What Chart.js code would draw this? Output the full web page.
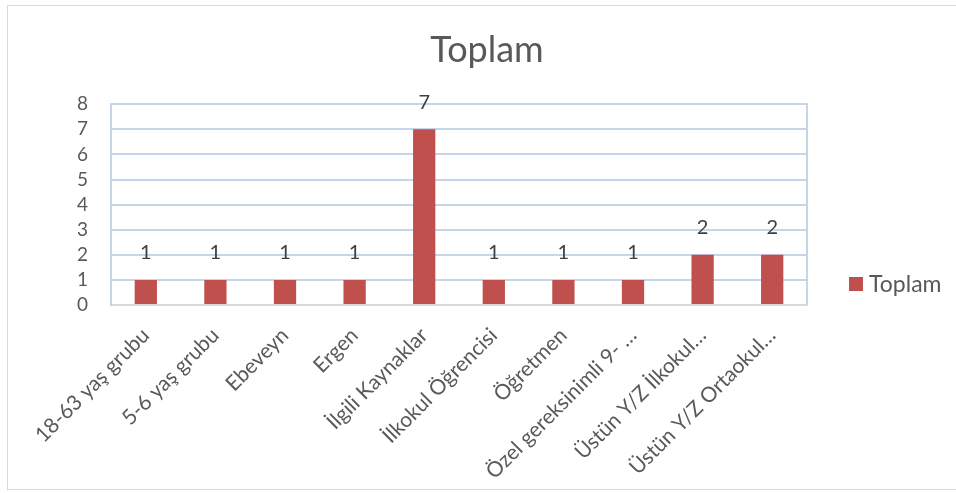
<!DOCTYPE html>
<html>
<head>
<meta charset="utf-8">
<script src="https://cdn.jsdelivr.net/npm/chart.js@4.4.1/dist/chart.umd.min.js"></script>
<style>
  html, body { margin: 0; padding: 0; background: #fff; overflow: hidden; }
  #frame { position: absolute; left: 7px; top: 5px; width: 970px; height: 485px; border: 1px solid #d9d9d9; box-sizing: border-box; }
  #wrap { position: absolute; left: 0; top: 0; width: 956px; height: 493px; }
</style>
</head>
<body>
<div id="frame"></div>
<div id="wrap"><canvas id="c" width="956" height="493"></canvas></div>
<script>
const categories = [
  "18-63 yaş grubu", "5-6 yaş grubu", "Ebeveyn", "Ergen", "İlgili Kaynaklar",
  "İlkokul Öğrencisi", "Öğretmen", "Özel gereksinimli 9- …", "Üstün Y/Z İlkokul…", "Üstün Y/Z Ortaokul…"
];
const toplamValues = [1, 1, 1, 1, 7, 1, 1, 1, 2, 2];
const yTickLabels = ["0", "1", "2", "3", "4", "5", "6", "7", "8"];
const chartTitle = "Toplam";
const seriesName = "Toplam";

const FONT = "Lato, 'Open Sans', sans-serif";
const GRID = "#c5d5ea";

const dataLabels = {
  id: "dataLabels",
  afterDatasetsDraw(chart) {
    const ctx = chart.ctx;
    const meta = chart.getDatasetMeta(0);
    ctx.save();
    ctx.font = "20px " + FONT;
    ctx.fillStyle = "#404040";
    ctx.textAlign = "center";
    ctx.textBaseline = "middle";
    meta.data.forEach((bar, i) => {
      ctx.fillText(String(chart.data.datasets[0].data[i]), bar.x, bar.y - 27);
    });
    ctx.restore();
  }
};

const plotBorder = {
  id: "plotBorder",
  beforeDatasetsDraw(chart) {
    const a = chart.chartArea, ctx = chart.ctx;
    ctx.save();
    ctx.strokeStyle = GRID;
    ctx.lineWidth = 2;
    ctx.beginPath();
    ctx.moveTo(a.right, a.top - 1);
    ctx.lineTo(a.right, a.bottom);
    ctx.stroke();
    ctx.restore();
  }
};

const customLegend = {
  id: "customLegend",
  afterDraw(chart) {
    const ctx = chart.ctx;
    ctx.save();
    ctx.fillStyle = chart.data.datasets[0].backgroundColor;
    ctx.fillRect(849, 277, 14, 14);
    ctx.font = "23px " + FONT;
    ctx.fillStyle = "#595959";
    ctx.textAlign = "left";
    ctx.textBaseline = "middle";
    ctx.fillText(chart.data.datasets[0].label, 869, 285);
    ctx.restore();
  }
};

new Chart(document.getElementById("c"), {
  type: "bar",
  data: {
    labels: categories,
    datasets: [{
      label: seriesName,
      data: toplamValues,
      backgroundColor: "#c0504d",
      borderWidth: 0,
      categoryPercentage: 1,
      barPercentage: 0.32
    }]
  },
  options: {
    responsive: false,
    animation: false,
    layout: { padding: { left: 18, right: 0, top: 0, bottom: 0 } },
    plugins: {
      legend: { display: false },
      tooltip: { enabled: false },
      title: {
        display: true,
        text: chartTitle,
        color: "#595959",
        font: { family: FONT, size: 36, weight: "normal", lineHeight: 1.2 },
        padding: { top: 29, bottom: 32 }
      }
    },
    scales: {
      x: {
        grid: { display: false, drawTicks: false },
        border: { display: true, color: "#d9d9d9", width: 2 },
        ticks: {
          color: "#595959",
          font: { family: FONT, size: 21 },
          minRotation: 45,
          maxRotation: 45,
          autoSkip: false,
          padding: 18
        },
        afterFit(s) { s.height = 188; s.paddingLeft = 0; s.paddingRight = 0; }
      },
      y: {
        min: 0,
        max: 8,
        grid: { color: GRID, lineWidth: 2, drawTicks: false },
        border: { display: true, color: GRID, width: 2 },
        ticks: {
          stepSize: 1,
          autoSkip: false,
          color: "#595959",
          font: { family: FONT, size: 19, lineHeight: 1 },
          padding: 23,
          callback: (v) => yTickLabels[v]
        },
        afterFit(s) { s.width = 93; }
      },
      legendSpace: {
        type: "linear",
        position: "right",
        display: true,
        grid: { display: false, drawTicks: false },
        border: { display: false },
        ticks: { display: false },
        afterFit(s) { s.width = 149; }
      }
    }
  },
  plugins: [plotBorder, dataLabels, customLegend]
});
</script>
</body>
</html>
